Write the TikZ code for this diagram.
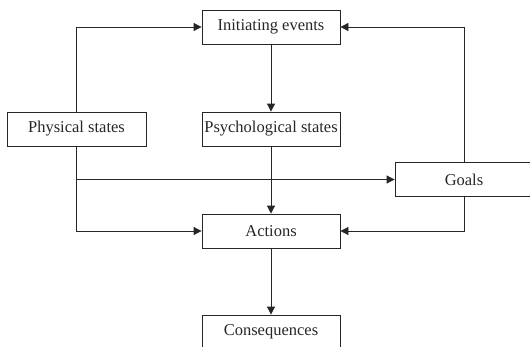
\documentclass[tikz,border=0pt]{standalone}
\usepackage{fontspec}
\setmainfont{Liberation Serif}
\usetikzlibrary{arrows.meta}
\definecolor{ink}{HTML}{262626}
\begin{document}
\begin{tikzpicture}[x=1pt,y=-1pt,
  box/.style={draw=ink, line width=0.8pt, text=ink, minimum width=138pt,
    minimum height=34pt, inner sep=0pt,
    font=\fontsize{16.5}{18}\selectfont},
  link/.style={draw=ink, line width=0.8pt, -{Triangle[length=8pt,width=8pt]}}]
  \useasboundingbox (0,0) rectangle (530,346);
  \clip (0,0) rectangle (530,346);

  % boxes
  \node[box] (init)  at (271,27)    {Initiating events};
  \node[box] (psych) at (271,129)   {Psychological states};
  \node[box, minimum width=139pt] (phys) at (76.5,129) {Physical states};
  \node[box] (goals) at (464,179.5) {Goals};
  \node[box] (act)   at (271,231)   {Actions};
  \node[box] (cons)  at (271,332)   {Consequences};

  % main chain
  \draw[link] (init) -- (psych);
  \draw[link] (psych) -- (act);
  \draw[link] (act) -- (cons);

  % physical states feed events, goals and actions
  \draw[link] (phys.north) |- (init.west);
  \draw[link] (phys.south) |- (act.west);
  \draw[link] (phys.south |- goals.west) -- (goals.west);

  % goals feed events and actions
  \draw[link] (goals.north) |- (init.east);
  \draw[link] (goals.south) |- (act.east);
\end{tikzpicture}
\end{document}
